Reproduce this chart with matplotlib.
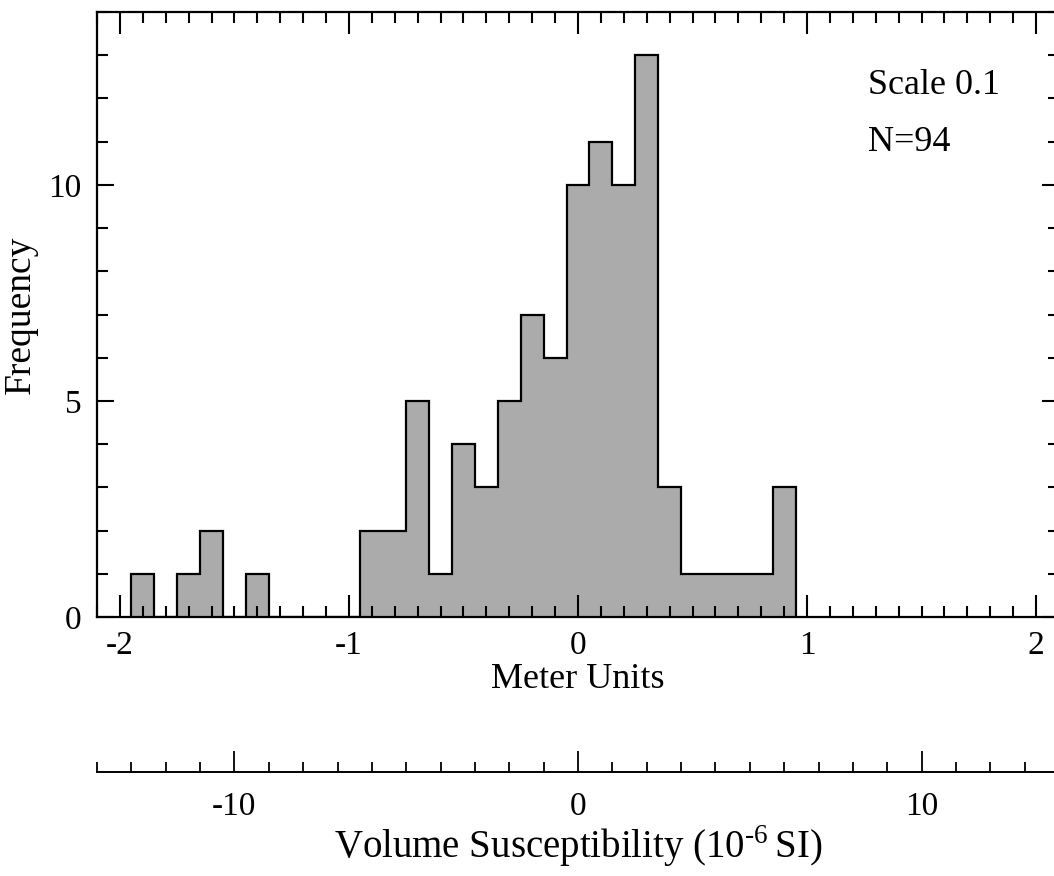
import numpy as np
import matplotlib
matplotlib.use("Agg")
import matplotlib.pyplot as plt
from matplotlib.ticker import MultipleLocator

plt.rcParams['font.family'] = ['Liberation Serif', 'DejaVu Serif']
plt.rcParams['axes.unicode_minus'] = False
plt.rcParams['mathtext.fontset'] = 'custom'
plt.rcParams['mathtext.rm'] = 'Liberation Serif'

# histogram data (meter units, bin width 0.1)
bin_centers = [-1.9, -1.8, -1.7, -1.6, -1.5, -1.4, -1.3, -1.2, -1.1, -1.0,
               -0.9, -0.8, -0.7, -0.6, -0.5, -0.4, -0.3, -0.2, -0.1, 0.0,
               0.1, 0.2, 0.3, 0.4, 0.5, 0.6, 0.7, 0.8, 0.9]
counts = [1, 0, 1, 2, 0, 1, 0, 0, 0, 0,
          2, 2, 5, 1, 4, 3, 5, 7, 6, 10,
          11, 10, 13, 3, 1, 1, 1, 1, 3]
bin_width = 0.1
x_ticks = [-2, -1, 0, 1, 2]
y_ticks = [0, 5, 10]
si_ticks = [-10, 0, 10]

centers = np.array(bin_centers)
edges = np.append(centers - bin_width / 2, centers[-1] + bin_width / 2)

fig = plt.figure(figsize=(10.54, 8.76), dpi=100)
ax = fig.add_axes([97 / 1054, 259 / 876, 962 / 1054, 605 / 876])

ax.stairs(counts, edges, fill=True, color='#ababab', baseline=0)
ax.stairs(counts, edges, color='black', linewidth=1.6, baseline=0)

ax.set_xlim(-2.1, 2.1)
ax.set_ylim(0, 14)
ax.set_xticks(x_ticks)
ax.set_xticklabels([str(t) for t in x_ticks])
ax.set_yticks(y_ticks)
ax.xaxis.set_minor_locator(MultipleLocator(0.1))
ax.yaxis.set_minor_locator(MultipleLocator(1))
ax.tick_params(axis='x', which='both', direction='in', top=True, bottom=True,
               labelsize=24, pad=10, width=1.5)
ax.tick_params(axis='x', which='major', length=16)
ax.tick_params(axis='x', which='minor', length=8)
ax.tick_params(axis='y', which='both', direction='in', left=True, right=True,
               labelsize=24, pad=11, width=1.5)
ax.tick_params(axis='y', which='major', length=12)
ax.tick_params(axis='y', which='minor', length=8)
for s in ax.spines.values():
    s.set_linewidth(1.6)

ax.set_xlabel('Meter Units', fontsize=26, labelpad=1)
ax.set_ylabel('Frequency', fontsize=27, labelpad=8)

ax.text(0.801, 0.878, 'Scale 0.1', transform=ax.transAxes, fontsize=26,
        ha='left', va='center')
ax.text(0.801, 0.785, 'N=94', transform=ax.transAxes, fontsize=26,
        ha='left', va='center')

# secondary scale: volume susceptibility
ax2 = fig.add_axes([97 / 1054, 104 / 876, 962 / 1054, 0.04])
ax2.set_xlim(-14, 14)
ax2.set_ylim(0, 1)
for name in ['top', 'left', 'right']:
    ax2.spines[name].set_visible(False)
ax2.spines['bottom'].set_linewidth(1.4)
ax2.patch.set_alpha(0)
ax2.set_yticks([])
ax2.set_xticks(si_ticks)
ax2.xaxis.set_minor_locator(MultipleLocator(1))
ax2.tick_params(axis='x', which='both', direction='in', labelsize=24, pad=14,
                width=1.3)
ax2.tick_params(axis='x', which='major', length=15)
ax2.tick_params(axis='x', which='minor', length=7)
ax2.set_xlabel(r'Volume Susceptibility (10$^{\text{-6}}\,$SI)', fontsize=28,
               labelpad=1)

fig.savefig('out.png', dpi=100)
